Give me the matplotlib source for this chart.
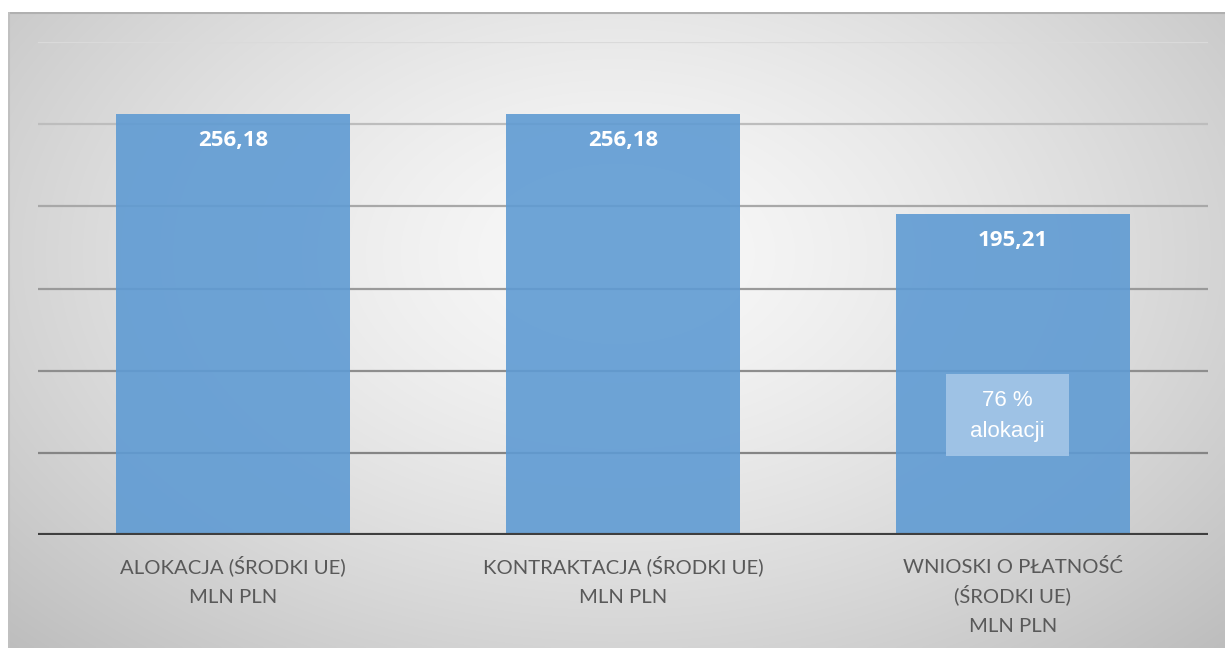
import numpy as np
import matplotlib
matplotlib.use("Agg")
import matplotlib.pyplot as plt
from matplotlib.patches import Rectangle

# data
categories = [["ALOKACJA (ŚRODKI UE)", "MLN PLN"],
              ["KONTRAKTACJA (ŚRODKI UE)", "MLN PLN"],
              ["WNIOSKI O PŁATNOŚĆ", "(ŚRODKI UE)", "MLN PLN"]]
values = [256.18, 256.18, 195.21]
value_labels = ["256,18", "256,18", "195,21"]
note_lines = ["76 %", "alokacji"]

W, H = 1225, 648
fig = plt.figure(figsize=(W / 100, H / 100), dpi=100)
fig.patch.set_facecolor("white")

# radial gradient panel behind the chart
bg = fig.add_axes([8 / W, 0, 1 - 8 / W, 1 - 12 / H])
bg.set_axis_off()
yy, xx = np.mgrid[0:1:300j, 0:1:600j]
r = np.sqrt(((xx - 0.5) / 0.72) ** 2 + ((yy - 0.38) / 0.9) ** 2)
shade = np.clip(0.975 - 0.24 * r ** 1.4, 0, 1)
bg.imshow(np.dstack([shade] * 3), aspect="auto", extent=[0, 1, 1, 0],
          interpolation="bilinear")
bg.plot([0, 1], [0.999, 0.999], color="#b0b0b0", lw=1.5, transform=bg.transAxes)
bg.plot([0.001, 0.001], [0, 1], color="#c0c0c0", lw=1.5, transform=bg.transAxes)
bg.set_xlim(0, 1)
bg.set_ylim(1, 0)

ax = fig.add_axes([38 / W, (H - 535) / H, 1170 / W, (535 - 42) / H])
ax.patch.set_alpha(0)
x = np.arange(len(values))
ax.set_xlim(-0.5, 2.5)
ax.set_ylim(0, 300)
px = 50 / 82  # data units per pixel on y


def ypix(py):
    return (535 - py) * px


grid_colors = ["#dadada", "#bdbdbd", "#a8a8a8", "#9a9a9a", "#8e8e8e", "#858585"]
for lvl, c in zip(range(300, 0, -50), grid_colors):
    ax.axhline(lvl, color=c, lw=1.6, zorder=1)

ax.bar(x, values, width=0.6, color="#5f9bd3", alpha=0.9, zorder=2)

for xi, v, lab in zip(x, values, value_labels):
    ax.text(xi, v - 16, lab, ha="center", va="center", color="white",
            fontsize=16, fontweight="bold", family=["Open Sans", "DejaVu Sans"],
            zorder=4)

# note box on the third bar
ax.add_patch(Rectangle((1.985 - 0.158, 48), 0.316, 50, facecolor="#a4c6e8",
                       edgecolor="none", alpha=0.9, zorder=3))
for k, line in enumerate(note_lines):
    ax.text(1.985, ypix(406 + 31 * k), line, ha="center", va="baseline",
            color="white", fontsize=16, family="Liberation Sans", zorder=4)

ax.axhline(0, color="#3f3f3f", lw=3, zorder=5)
for s in ax.spines.values():
    s.set_visible(False)
ax.set_yticks([])
ax.set_xticks([])

# category labels, one text per line
for xi, lines in zip(x, categories):
    for k, line in enumerate(lines):
        ax.text(xi, ypix(573 + 29.5 * k), line, ha="center", va="baseline",
                color="#595959", fontsize=14.6, family="Lato", clip_on=False)

fig.savefig("out.png", dpi=100)
